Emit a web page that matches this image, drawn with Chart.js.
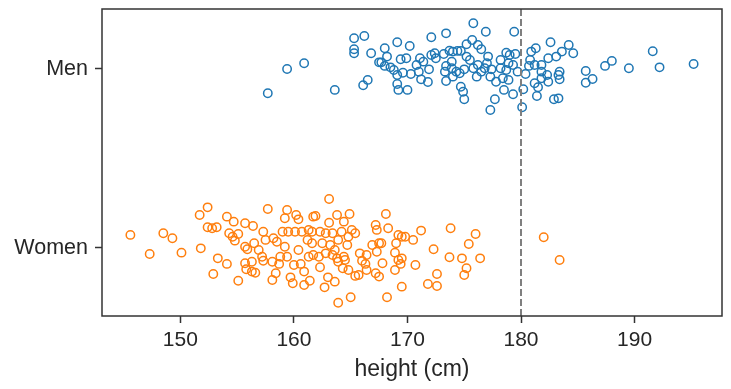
<!DOCTYPE html>
<html lang="en">
<head>
  <meta charset="UTF-8" />
  <title>Height strip plot</title>
  <script src="https://cdn.jsdelivr.net/npm/chart.js"></script>
  <style>
    body { margin: 0; background: #fff; }
    canvas { display: block; }
  </style>
</head>
<body>
  <canvas id="stripChart" width="731" height="389"></canvas>

  <script>
    const categories = ['Women', 'Men'];
    const xTicks = [150, 160, 170, 180, 190];
    const cutoff = 180;

    // heights (cm) and vertical jitter (in category units)
    const menHeight = [
      157.7, 159.4, 160.9, 163.6, 165.3, 166.2, 165.3, 165.3, 166.8, 167.5,
      166.5, 166.1, 168.0, 169.1, 170.2, 168.2, 167.7, 168.0, 168.5, 168.8,
      169.4, 169.9, 169.1, 169.6, 170.3, 169.1, 169.2, 170.0, 171.1, 170.8,
      171.4, 171.0, 171.2, 171.8, 171.9, 172.1, 173.4, 172.1, 172.4, 172.5,
      173.2, 173.4, 173.3, 173.9, 173.7, 174.0, 174.4, 174.7, 175.2, 175.7,
      175.8, 176.9, 176.2, 176.5, 175.2, 175.5, 173.9, 174.3, 174.6, 174.0,
      173.4, 175.0, 175.8, 176.2, 176.5, 176.1, 176.8, 177.0, 177.1, 174.7,
      174.9, 175.0, 177.3, 179.4, 177.4, 177.3, 177.8, 178.2, 178.7, 179.0,
      179.5, 178.9, 179.3, 178.7, 178.2, 179.7, 178.4, 178.9, 178.5, 179.3,
      177.7, 180.1, 180.2, 180.4, 180.7, 180.9, 181.3, 180.8, 181.2, 181.8,
      181.8, 181.8, 181.2, 181.5, 181.4, 182.3, 182.4, 182.6, 182.4, 183.1,
      183.6, 184.2, 184.6, 183.4, 183.3, 183.4, 182.9, 183.3, 185.7, 185.7,
      186.3, 187.4, 188.0, 189.5, 191.6, 192.2, 195.2
    ];
    const menJitter = [
      -0.136, 0.000, 0.032, -0.117, 0.172, 0.184, 0.110, 0.088, 0.088, 0.037,
      -0.061, -0.091, 0.116, 0.149, 0.128, 0.069, 0.037, 0.017, 0.009, -0.006,
      0.054, 0.060, -0.034, -0.021, -0.028, -0.084, -0.117, -0.117, 0.060, 0.022,
      0.041, -0.015, -0.058, -0.073, -0.002, 0.177, 0.199, 0.078, 0.088, 0.060,
      0.084, 0.017, -0.015, 0.041, 0.102, 0.097, 0.101, 0.101, 0.138, 0.162,
      0.255, 0.208, 0.134, 0.110, 0.069, 0.050, 0.004, -0.015, -0.024, -0.043,
      -0.067, -0.002, 0.004, 0.022, -0.015, -0.043, 0.004, 0.032, 0.069, -0.099,
      -0.127, -0.169, -0.229, 0.208, -0.002, -0.043, -0.071, 0.050, 0.091, 0.078,
      0.084, 0.032, 0.022, -0.006, 0.004, -0.015, -0.052, -0.061, -0.117, -0.141,
      -0.169, -0.214, -0.113, -0.028, 0.017, 0.097, 0.116, 0.050, 0.022, 0.022,
      -0.015, -0.052, -0.080, -0.102, -0.151, -0.034, -0.071, 0.149, 0.060, 0.069,
      0.097, 0.134, 0.088, -0.015, -0.034, -0.058, -0.169, -0.164, -0.011, -0.077,
      -0.056, 0.017, 0.045, 0.004, 0.099, 0.009, 0.028
    ];

    const womenHeight = [
      145.6, 147.3, 148.5, 149.3, 150.1, 151.7, 152.4, 152.4, 152.8, 153.2,
      151.8, 153.3, 152.9, 154.1, 154.7, 154.3, 154.6, 155.1, 154.8, 154.1,
      155.1, 155.7, 156.4, 157.7, 157.3, 155.7, 155.9, 156.5, 156.9, 157.5,
      158.2, 158.5, 159.0, 159.4, 159.2, 160.2, 160.4, 159.5, 160.1, 160.7,
      161.3, 161.7, 161.2, 161.6, 159.2, 159.4, 158.8, 160.4, 157.2, 157.3,
      158.1, 158.7, 158.4, 158.1, 155.7, 156.3, 155.8, 156.3, 156.6, 160.0,
      160.6, 160.9, 159.7, 159.9, 160.9, 161.4, 161.3, 161.7, 163.1, 161.9,
      163.8, 164.9, 164.4, 163.1, 161.6, 162.3, 162.8, 163.4, 164.2, 165.1,
      165.4, 164.8, 163.9, 164.7, 162.5, 163.2, 163.6, 162.2, 162.8, 163.4,
      163.8, 164.4, 164.5, 163.9, 162.3, 163.0, 163.6, 162.7, 163.9, 165.0,
      164.3, 164.8, 165.4, 165.8, 166.4, 166.0, 166.3, 166.4, 165.7, 167.2,
      167.3, 166.9, 167.5, 167.7, 167.3, 167.2, 167.5, 168.1, 168.3, 169.2,
      169.5, 169.0, 168.9, 169.5, 169.4, 168.9, 167.8, 169.5, 168.2, 169.8,
      170.5, 171.2, 173.8, 176.0, 175.4, 172.3, 169.2, 170.7, 173.7, 174.8,
      176.4, 175.2, 175.0, 172.6, 171.8, 172.6, 182.0, 183.4
    ];
    const womenJitter = [
      0.073, -0.034, 0.082, 0.054, -0.026, 0.184, 0.227, 0.116, 0.110, 0.116,
      -0.002, -0.058, -0.145, 0.175, 0.147, 0.082, 0.063, 0.078, 0.041, -0.089,
      -0.183, 0.138, 0.123, 0.218, 0.091, 0.007, -0.007, 0.026, -0.011, 0.045,
      0.054, 0.035, 0.091, 0.212, 0.166, 0.184, 0.160, 0.091, 0.091, 0.091,
      0.101, 0.175, 0.045, 0.026, 0.007, -0.049, -0.049, -0.011, -0.049, -0.071,
      -0.077, -0.089, -0.141, -0.179, -0.085, -0.077, -0.119, -0.132, -0.138, -0.095,
      -0.089, -0.132, -0.164, -0.197, -0.207, -0.183, -0.049, -0.039, 0.274, 0.179,
      0.184, 0.190, 0.147, 0.141, 0.091, 0.091, 0.082, 0.082, 0.091, 0.101,
      0.082, 0.063, 0.045, 0.017, 0.026, 0.017, -0.011, -0.049, -0.030, -0.039,
      -0.058, -0.049, -0.067, -0.077, -0.108, -0.164, -0.188, -0.220, -0.306, -0.275,
      -0.113, -0.123, -0.156, -0.030, -0.039, -0.071, -0.089, -0.123, -0.151, 0.128,
      0.101, 0.017, 0.026, 0.026, -0.021, -0.141, -0.160, 0.190, 0.110, 0.073,
      0.063, 0.026, -0.026, -0.058, -0.089, -0.123, -0.085, -0.216, -0.275, 0.063,
      0.045, 0.097, 0.110, 0.078, 0.022, -0.007, -0.067, -0.095, -0.052, -0.058,
      -0.058, -0.113, -0.151, -0.145, -0.201, -0.212, 0.060, -0.067
    ];

    const xMin = 143.1, xMax = 197.7;
    const yMin = -0.38, yMax = 1.335;

    const textColor = '#262626';
    const axisColor = '#333333';
    const fontFamily = "'Liberation Sans', Arial, sans-serif";

    const menPoints = menHeight.map((h, i) => ({ x: h, y: 1 + menJitter[i] }));
    const womenPoints = womenHeight.map((h, i) => ({ x: h, y: 0 + womenJitter[i] }));

    // full box around the plot area
    const frame = {
      id: 'frame',
      afterDraw(chart) {
        const a = chart.chartArea, ctx = chart.ctx;
        ctx.save();
        ctx.strokeStyle = axisColor;
        ctx.lineWidth = 1.5;
        ctx.strokeRect(a.left, a.top, a.right - a.left, a.bottom - a.top);
        ctx.restore();
      }
    };

    new Chart(document.getElementById('stripChart'), {
      type: 'scatter',
      data: {
        datasets: [
          {
            type: 'line',
            label: 'cutoff',
            data: [{ x: cutoff, y: yMin }, { x: cutoff, y: yMax }],
            borderColor: '#7f7f7f',
            borderWidth: 2,
            borderDash: [7, 3],
            pointRadius: 0,
            order: 0
          },
          {
            label: 'Men',
            data: menPoints,
            borderColor: '#1f77b4',
            backgroundColor: 'rgba(0,0,0,0)',
            pointRadius: 4.2,
            pointBorderWidth: 1.5,
            order: 1
          },
          {
            label: 'Women',
            data: womenPoints,
            borderColor: '#ff7f0e',
            backgroundColor: 'rgba(0,0,0,0)',
            pointRadius: 4.2,
            pointBorderWidth: 1.5,
            order: 1
          }
        ]
      },
      options: {
        responsive: false,
        animation: false,
        devicePixelRatio: 1,
        layout: { padding: { left: 0, top: 9, right: 9, bottom: 0 } },
        plugins: {
          legend: { display: false },
          tooltip: { enabled: false }
        },
        scales: {
          x: {
            type: 'linear',
            min: xMin,
            max: xMax,
            afterBuildTicks: (scale) => { scale.ticks = xTicks.map(v => ({ value: v })); },
            afterFit: (scale) => {
              scale.height = 73;
              scale.paddingLeft = 0;
              scale.paddingRight = 0;
            },
            border: { display: false },
            grid: {
              display: true,
              drawOnChartArea: false,
              drawTicks: true,
              tickLength: 7,
              tickWidth: 1.5,
              tickColor: axisColor
            },
            ticks: {
              color: textColor,
              padding: 5,
              font: { family: fontFamily, size: 21 }
            },
            title: {
              display: true,
              text: 'height (cm)',
              color: textColor,
              padding: { top: 1, bottom: 6 },
              font: { family: fontFamily, size: 23 }
            }
          },
          y: {
            type: 'linear',
            min: yMin,
            max: yMax,
            afterBuildTicks: (scale) => { scale.ticks = [{ value: 1 }, { value: 0 }]; },
            afterFit: (scale) => {
              scale.width = 102;
              scale.paddingTop = 0;
              scale.paddingBottom = 0;
            },
            border: { display: false },
            grid: {
              display: true,
              drawOnChartArea: false,
              drawTicks: true,
              tickLength: 7,
              tickWidth: 1.5,
              tickColor: axisColor
            },
            ticks: {
              color: textColor,
              padding: 7,
              font: { family: fontFamily, size: 21.5 },
              callback: (v) => categories[v]
            }
          }
        }
      },
      plugins: [frame]
    });
  </script>
</body>
</html>
